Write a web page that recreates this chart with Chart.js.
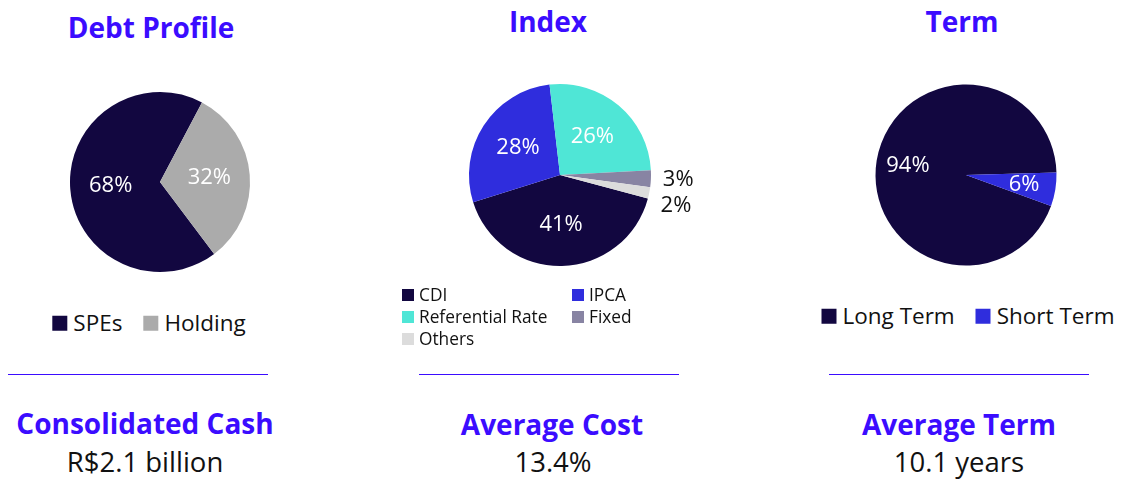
<!DOCTYPE html>
<html>
<head>
<meta charset="utf-8">
<script src="https://cdn.jsdelivr.net/npm/chart.js@4.4.0/dist/chart.umd.min.js"></script>
<style>
    body { margin: 0; background: #fff; font-family: "Open Sans", sans-serif; color: #111; }
    #wrap { position: relative; width: 1122px; height: 479px; overflow: hidden; }
    #wrap canvas { position: absolute; }
    .txt { position: absolute; transform: translate(-50%, -50%); white-space: nowrap; line-height: 1; }
    .head { color: #3b0cff; font-weight: bold; font-size: 28px; }
    .value { font-size: 27.5px; }
    .rule { position: absolute; height: 0; border-top: 1.5px solid #3b0cff; width: 260px; top: 374px; }
    .legend { position: absolute; display: flex; transform: translate(-50%, -50%); white-space: nowrap; font-size: 22.5px; line-height: 1; }
    .legend .item { display: flex; align-items: center; margin-right: 21px; }
    .legend .item:last-child { margin-right: 0; }
    .legend .box { width: 15px; height: 15px; margin-right: 6px; }
    .legend.grid { display: grid; grid-template-columns: 170px auto; transform: none; font-size: 17.3px; }
    .legend.grid .item { height: 22px; margin: 0; }
    .legend.grid .box { width: 12px; height: 12px; margin-right: 5px; }
</style>
</head>
<body>
<div id="wrap">
    <div class="txt head" style="left:151px; top:27px">Debt Profile</div>
    <div class="txt head" style="left:548px; top:21px">Index</div>
    <div class="txt head" style="left:962px; top:21px">Term</div>

    <canvas id="pie1" width="300" height="240" style="left:10px; top:62px"></canvas>
    <canvas id="pie2" width="300" height="240" style="left:410px; top:55px"></canvas>
    <canvas id="pie3" width="300" height="240" style="left:816px; top:55px"></canvas>

    <div class="legend" id="leg1" style="left:149px; top:323px"></div>
    <div class="legend grid" id="leg2" style="left:402px; top:284px"></div>
    <div class="legend" id="leg3" style="left:968px; top:316px"></div>

    <div class="rule" style="left:8px"></div>
    <div class="rule" style="left:419px"></div>
    <div class="rule" style="left:829px"></div>

    <div class="txt head" style="left:145px; top:423px">Consolidated Cash</div>
    <div class="txt head" style="left:552px; top:424px">Average Cost</div>
    <div class="txt head" style="left:959px; top:424px">Average Term</div>
    <div class="txt value" style="left:145px; top:462px">R$2.1 billion</div>
    <div class="txt value" style="left:553px; top:462px">13.4%</div>
    <div class="txt value" style="left:959px; top:462px">10.1 years</div>
</div>
<script>
// debt profile
const profileLabels = ['SPEs', 'Holding'];
const profileValues = [68, 32];
const profileColors = ['#120740', '#ababab'];

// index
const indexLabels = ['CDI', 'IPCA', 'Referential Rate', 'Fixed', 'Others'];
const indexValues = [41, 28, 26, 3, 2];
const indexColors = ['#120740', '#2f2ddd', '#4fe6d6', '#8884a3', '#dcdcdc'];

// term
const termLabels = ['Long Term', 'Short Term'];
const termValues = [94, 6];
const termColors = ['#120740', '#2f2ddd'];

// writes the % on each slice, small slices get it outside in dark text
const sliceLabels = {
    id: 'sliceLabels',
    afterDatasetsDraw(chart, args, opts) {
        const ctx = chart.ctx;
        const data = chart.data.datasets[0].data;
        let lastY = null;
        ctx.save();
        ctx.font = '22px "Open Sans"';
        ctx.textAlign = 'center';
        ctx.textBaseline = 'middle';
        chart.getDatasetMeta(0).data.forEach(function (arc, i) {
            const p = arc.getProps(['x', 'y', 'startAngle', 'endAngle', 'outerRadius'], true);
            const mid = (p.startAngle + p.endAngle) / 2;
            const small = data[i] < 5;
            const r = p.outerRadius * (small ? 1.3 : opts.inside);
            let x = p.x + Math.cos(mid) * r;
            let y = p.y + Math.sin(mid) * r;
            if (small) {
                // keep outside labels from sitting on top of each other
                if (lastY !== null && Math.abs(y - lastY) < 26) {
                    y = lastY + (y > lastY ? 26 : -26);
                }
                lastY = y;
            }
            ctx.fillStyle = small ? '#111' : '#fff';
            ctx.fillText(data[i] + '%', x, y);
        });
        ctx.restore();
    }
};

function makePie(id, labels, values, colors, rotation, radius, inside) {
    return new Chart(document.getElementById(id), {
        type: 'pie',
        data: {
            labels: labels,
            datasets: [{
                data: values,
                backgroundColor: colors,
                borderWidth: 0,
                radius: radius
            }]
        },
        options: {
            responsive: false,
            animation: false,
            rotation: rotation,
            events: [],
            plugins: {
                legend: { display: false },
                tooltip: { enabled: false },
                sliceLabels: { inside: inside }
            }
        },
        plugins: [sliceLabels]
    });
}

function makeLegend(id, labels, colors) {
    const el = document.getElementById(id);
    labels.forEach(function (lab, i) {
        const item = document.createElement('div');
        item.className = 'item';
        item.innerHTML = '<span class="box" style="background:' + colors[i] + '"></span><span>' + lab + '</span>';
        el.appendChild(item);
    });
}

makePie('pie1', profileLabels, profileValues, profileColors, 143, 90, 0.55);
makePie('pie2', indexLabels, indexValues, indexColors, 105, 91, 0.55);
makePie('pie3', termLabels, termValues, termColors, 110, 90.5, 0.65);

makeLegend('leg1', profileLabels, profileColors);
makeLegend('leg2', indexLabels, indexColors);
makeLegend('leg3', termLabels, termColors);
</script>
</body>
</html>
